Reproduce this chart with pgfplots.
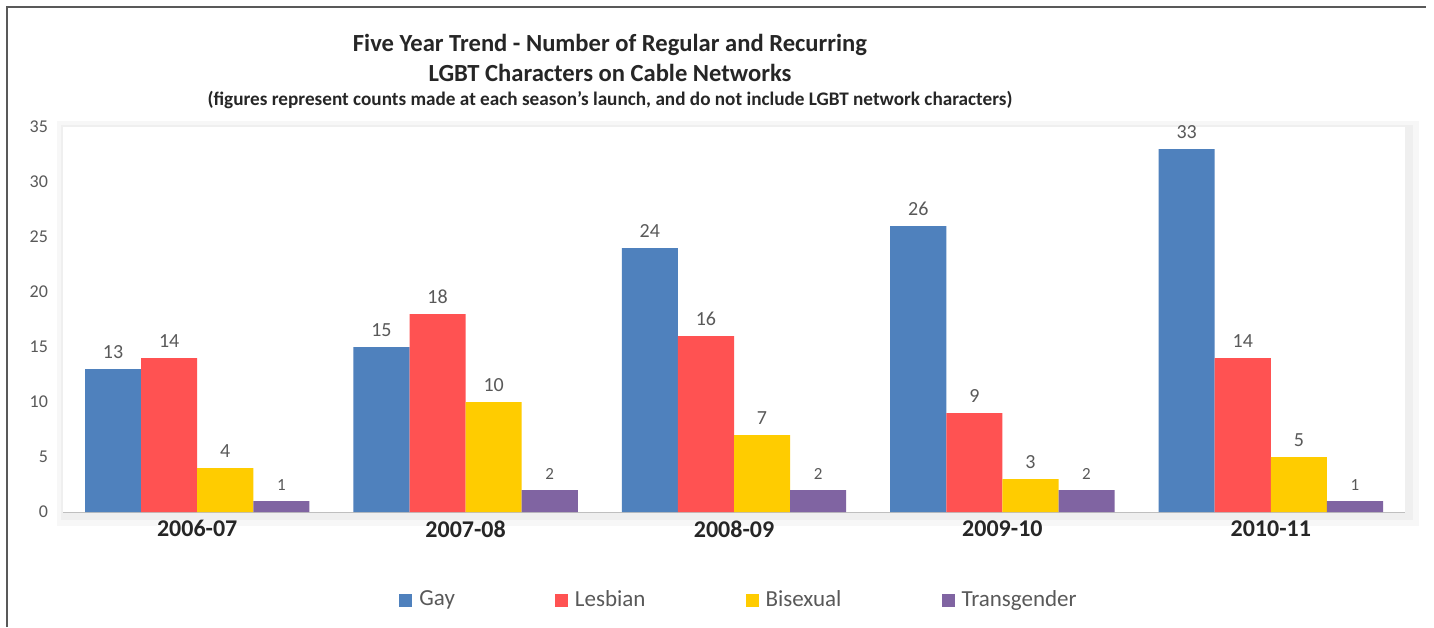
\documentclass[border=0pt]{standalone}
\usepackage{pgfplots}
\pgfplotsset{compat=1.18}
\usepackage{fontspec}
\setmainfont{Carlito}
\definecolor{cGay}{RGB}{79,129,189}
\definecolor{cLes}{RGB}{255,82,82}
\definecolor{cBi}{RGB}{255,204,0}
\definecolor{cTr}{RGB}{128,100,162}
\definecolor{txtgray}{RGB}{89,89,89}
\begin{document}
\begin{tikzpicture}[x=1pt,y=1pt]
\useasboundingbox (0,0) rectangle (717,313.5);
\fill[white] (0,0) rectangle (717,313.5);
\draw[black!65, line width=0.7pt] (3.5,0) -- (3.5,310) -- (713,310);
\node[font=\fontsize{12.3}{14}\bfseries, text=black!85] at (305,291) {Five Year Trend - Number of Regular and Recurring};
\node[font=\fontsize{12.3}{14}\bfseries, text=black!85] at (305,277) {LGBT Characters on Cable Networks};
\node[font=\fontsize{9.6}{11}\bfseries, text=black!85] at (305,263.5) {(figures represent counts made at each season's launch, and do not include LGBT network characters)};
\begin{axis}[
  at={(31.5pt,57.5pt)}, anchor=south west,
  scale only axis, width=671pt, height=192.5pt,
  /pgf/number format/assume math mode=true,
  ybar, bar width=0.209,
  xmin=-0.5, xmax=4.5, ymin=0, ymax=35,
  xtick={0,1,2,3,4},
  xticklabels={2006-07,2007-08,2008-09,2009-10,2010-11},
  ytick={0,5,...,35},
  axis x line*=bottom, axis y line*=left,
  x axis line style={draw=black!25},
  y axis line style={draw=none},
  tick style={draw=none},
  xticklabel style={font=\fontsize{12}{14}\bfseries, text=black!85, yshift=3.5pt},
  yticklabel style={font=\fontsize{9}{10}\selectfont, text=txtgray, xshift=-4pt},
  axis background/.style={fill=white,
     preaction={draw=black, opacity=0.03, line width=10pt, transform canvas={shift={(2pt,-2pt)}}},
     preaction={draw=black, opacity=0.03, line width=5pt, transform canvas={shift={(1.5pt,-1.5pt)}}}},
  nodes near coords,
  every node near coord/.append style={font=\fontsize{10}{11}\selectfont, text=txtgray, yshift=1.5pt},
  legend columns=4,
  legend style={draw=none, fill=none, at={(0.5045,-0.2286)}, anchor=center,
    font=\fontsize{11.5}{13}\selectfont, text=txtgray,
    /tikz/every odd column/.append style={column sep=1.5pt},
    /tikz/every even column/.append style={column sep=48pt}},
  legend image code/.code={\fill[#1] (0pt,-3.25pt) rectangle (6.5pt,3.25pt);},
]
\addplot[fill=cGay, draw=none, bar shift=-0.3135] coordinates {(0,13) (1,15) (2,24) (3,26) (4,33)};
\addplot[fill=cLes, draw=none, bar shift=-0.1045] coordinates {(0,14) (1,18) (2,16) (3,9) (4,14)};
\addplot[fill=cBi, draw=none, bar shift=0.1045] coordinates {(0,4) (1,10) (2,7) (3,3) (4,5)};
\addplot[fill=cTr, draw=none, bar shift=0.3135, every node near coord/.append style={font=\fontsize{8.5}{9}\selectfont}] coordinates {(0,1) (1,2) (2,2) (3,2) (4,1)};
\legend{Gay,Lesbian,Bisexual,Transgender}
\end{axis}
\end{tikzpicture}
\end{document}
